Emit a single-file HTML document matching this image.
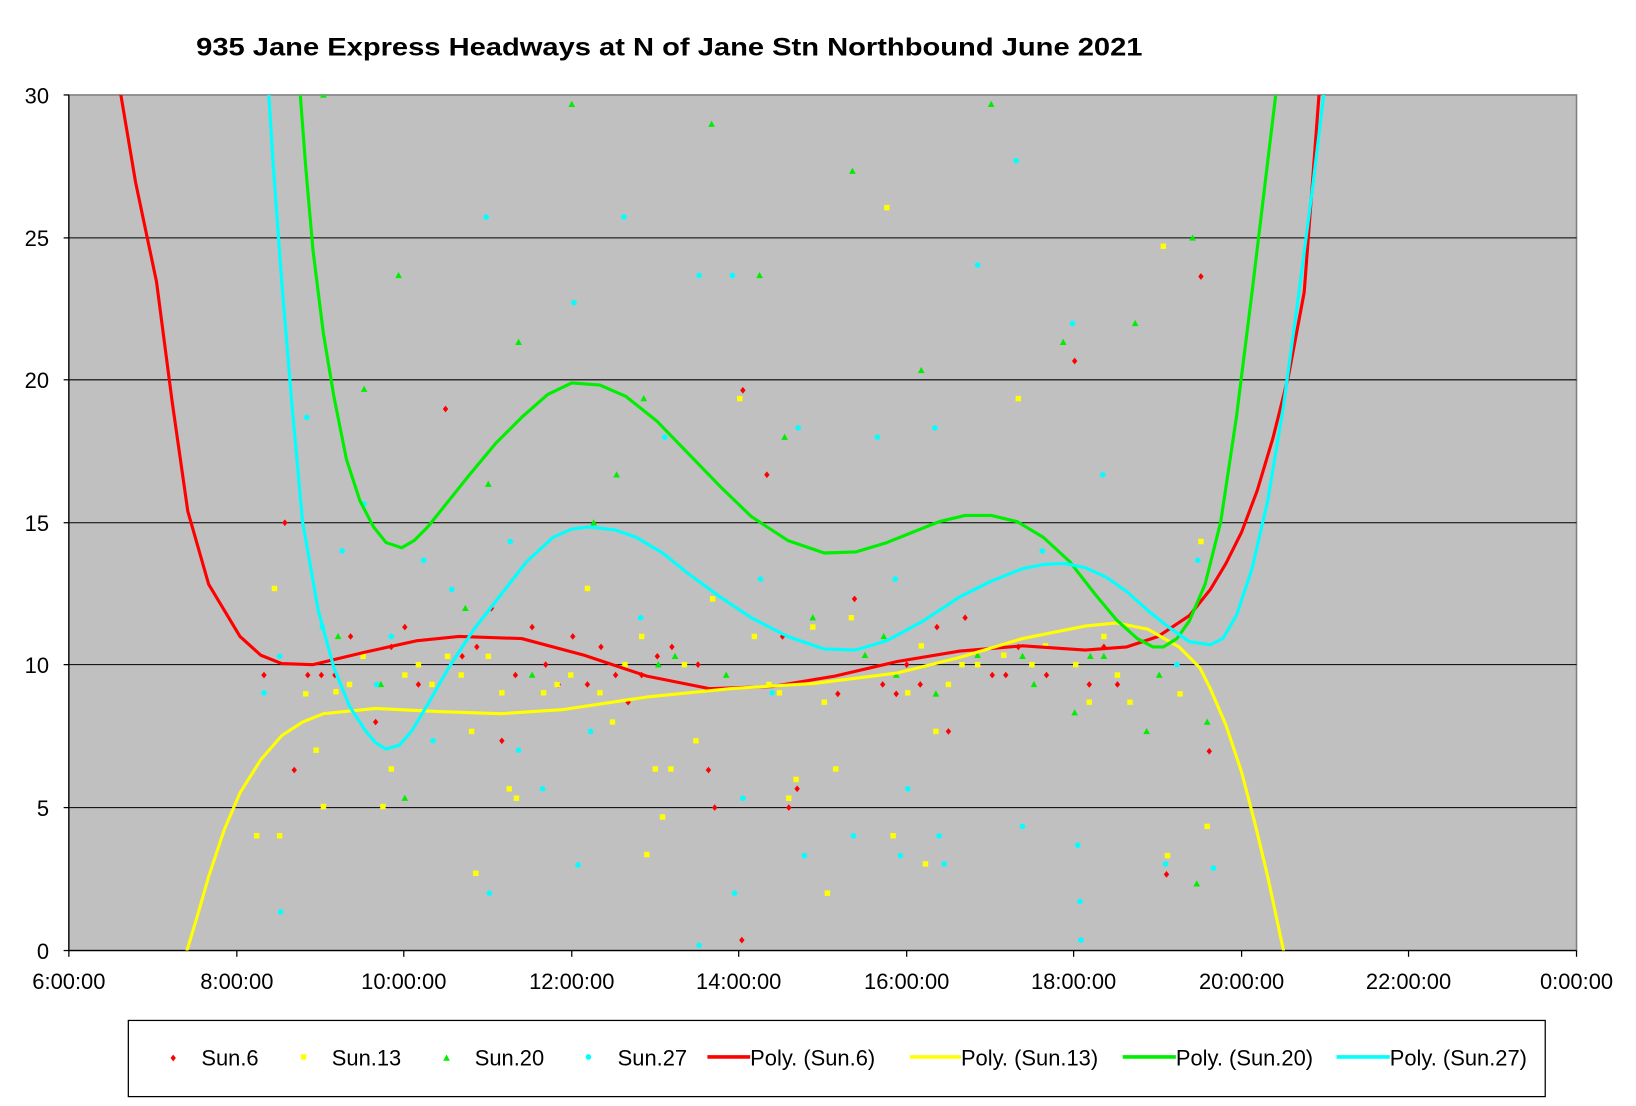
<!DOCTYPE html>
<html><head><meta charset="utf-8"><style>
html,body{margin:0;padding:0;background:#fff;}
svg{display:block;}
text{font-family:"Liberation Sans",Arial,sans-serif;}
</style></head><body>
<svg width="1636" height="1106" viewBox="0 0 1568 1060" preserveAspectRatio="none" xmlns="http://www.w3.org/2000/svg">
<defs>
<clipPath id="pc"><rect x="66" y="91" width="1445" height="820"/></clipPath>
<path id="dm" d="M0,-3.2 L2.6,0 L0,3.2 L-2.6,0Z" fill="#ff0000"/>
<rect id="sq" x="-2.6" y="-2.6" width="5.2" height="5.2" fill="#ffff00"/>
<path id="tr" d="M0,-3.4 L3.2,2.6 L-3.2,2.6Z" fill="#00ee00"/>
<circle id="ci" r="2.7" fill="#00ffff"/>
</defs>
<rect width="1568" height="1060" fill="#fff"/>
<text x="188" y="53" font-size="24" font-weight="bold" textLength="907" lengthAdjust="spacingAndGlyphs">935 Jane Express Headways at N of Jane Stn Northbound June 2021</text>
<rect x="66" y="91" width="1445" height="820" fill="#c0c0c0" stroke="#808080" stroke-width="1.5"/>
<g stroke="#000" stroke-width="1">
<line x1="66" y1="228" x2="1511" y2="228"/>
<line x1="66" y1="364" x2="1511" y2="364"/>
<line x1="66" y1="501" x2="1511" y2="501"/>
<line x1="66" y1="637" x2="1511" y2="637"/>
<line x1="66" y1="774" x2="1511" y2="774"/>
</g>
<g stroke="#000" stroke-width="1.2">
<line x1="66" y1="91" x2="66" y2="911"/>
<line x1="66" y1="911" x2="1511" y2="911"/>
<line x1="61" y1="91" x2="66" y2="91"/><line x1="61" y1="228" x2="66" y2="228"/><line x1="61" y1="364" x2="66" y2="364"/><line x1="61" y1="501" x2="66" y2="501"/><line x1="61" y1="637" x2="66" y2="637"/><line x1="61" y1="774" x2="66" y2="774"/><line x1="61" y1="911" x2="66" y2="911"/>
<line x1="66" y1="911" x2="66" y2="917"/><line x1="227" y1="911" x2="227" y2="917"/><line x1="387" y1="911" x2="387" y2="917"/><line x1="548" y1="911" x2="548" y2="917"/><line x1="708" y1="911" x2="708" y2="917"/><line x1="869" y1="911" x2="869" y2="917"/><line x1="1029" y1="911" x2="1029" y2="917"/><line x1="1190" y1="911" x2="1190" y2="917"/><line x1="1350" y1="911" x2="1350" y2="917"/><line x1="1511" y1="911" x2="1511" y2="917"/>
</g>
<g font-size="21" text-anchor="end">
<text x="47" y="99">30</text><text x="47" y="236">25</text><text x="47" y="372">20</text><text x="47" y="509">15</text><text x="47" y="645">10</text><text x="47" y="782">5</text><text x="47" y="919">0</text>
</g>
<g font-size="21" text-anchor="middle">
<text x="66" y="948">6:00:00</text><text x="227" y="948">8:00:00</text><text x="387" y="948">10:00:00</text><text x="548" y="948">12:00:00</text><text x="708" y="948">14:00:00</text><text x="869" y="948">16:00:00</text><text x="1029" y="948">18:00:00</text><text x="1190" y="948">20:00:00</text><text x="1350" y="948">22:00:00</text><text x="1511" y="948">0:00:00</text>
</g>
<g clip-path="url(#pc)">
<g>
<use href="#dm" x="253" y="647"/><use href="#dm" x="273" y="501"/><use href="#dm" x="282" y="738"/><use href="#dm" x="295" y="647"/><use href="#dm" x="308" y="647"/><use href="#dm" x="321" y="647"/><use href="#dm" x="336" y="610"/><use href="#dm" x="360" y="692"/><use href="#dm" x="375" y="620"/><use href="#dm" x="388" y="601"/><use href="#dm" x="401" y="656"/><use href="#dm" x="427" y="392"/><use href="#dm" x="443" y="629"/><use href="#dm" x="457" y="620"/><use href="#dm" x="471" y="583"/><use href="#dm" x="481" y="710"/><use href="#dm" x="494" y="647"/><use href="#dm" x="510" y="601"/><use href="#dm" x="523" y="637"/><use href="#dm" x="535" y="656"/><use href="#dm" x="549" y="610"/><use href="#dm" x="563" y="656"/><use href="#dm" x="576" y="620"/><use href="#dm" x="590" y="647"/><use href="#dm" x="602" y="673"/><use href="#dm" x="615" y="647"/><use href="#dm" x="630" y="629"/><use href="#dm" x="644" y="620"/><use href="#dm" x="669" y="637"/><use href="#dm" x="679" y="738"/><use href="#dm" x="685" y="774"/><use href="#dm" x="711" y="901"/><use href="#dm" x="712" y="374"/><use href="#dm" x="735" y="455"/><use href="#dm" x="750" y="610"/><use href="#dm" x="756" y="774"/><use href="#dm" x="764" y="756"/><use href="#dm" x="803" y="665"/><use href="#dm" x="819" y="574"/><use href="#dm" x="846" y="656"/><use href="#dm" x="859" y="665"/><use href="#dm" x="869" y="637"/><use href="#dm" x="882" y="656"/><use href="#dm" x="898" y="601"/><use href="#dm" x="909" y="701"/><use href="#dm" x="925" y="592"/><use href="#dm" x="951" y="647"/><use href="#dm" x="964" y="647"/><use href="#dm" x="976" y="620"/><use href="#dm" x="1003" y="647"/><use href="#dm" x="1030" y="346"/><use href="#dm" x="1044" y="656"/><use href="#dm" x="1058" y="620"/><use href="#dm" x="1071" y="656"/><use href="#dm" x="1118" y="838"/><use href="#dm" x="1151" y="265"/><use href="#dm" x="1159" y="720"/>
</g>
<g>
<use href="#sq" x="246" y="801"/><use href="#sq" x="263" y="564"/><use href="#sq" x="268" y="801"/><use href="#sq" x="293" y="665"/><use href="#sq" x="303" y="719"/><use href="#sq" x="310" y="773"/><use href="#sq" x="322" y="663"/><use href="#sq" x="335" y="656"/><use href="#sq" x="348" y="629"/><use href="#sq" x="367" y="773"/><use href="#sq" x="375" y="737"/><use href="#sq" x="388" y="647"/><use href="#sq" x="401" y="637"/><use href="#sq" x="414" y="656"/><use href="#sq" x="429" y="629"/><use href="#sq" x="442" y="647"/><use href="#sq" x="452" y="701"/><use href="#sq" x="456" y="837"/><use href="#sq" x="468" y="629"/><use href="#sq" x="481" y="664"/><use href="#sq" x="488" y="756"/><use href="#sq" x="495" y="765"/><use href="#sq" x="521" y="664"/><use href="#sq" x="534" y="656"/><use href="#sq" x="547" y="647"/><use href="#sq" x="563" y="564"/><use href="#sq" x="575" y="664"/><use href="#sq" x="587" y="692"/><use href="#sq" x="599" y="637"/><use href="#sq" x="615" y="610"/><use href="#sq" x="620" y="819"/><use href="#sq" x="628" y="737"/><use href="#sq" x="635" y="783"/><use href="#sq" x="643" y="737"/><use href="#sq" x="656" y="637"/><use href="#sq" x="667" y="710"/><use href="#sq" x="683" y="574"/><use href="#sq" x="709" y="382"/><use href="#sq" x="723" y="610"/><use href="#sq" x="737" y="656"/><use href="#sq" x="747" y="664"/><use href="#sq" x="756" y="765"/><use href="#sq" x="763" y="747"/><use href="#sq" x="779" y="601"/><use href="#sq" x="790" y="673"/><use href="#sq" x="793" y="856"/><use href="#sq" x="801" y="737"/><use href="#sq" x="816" y="592"/><use href="#sq" x="850" y="199"/><use href="#sq" x="856" y="801"/><use href="#sq" x="870" y="664"/><use href="#sq" x="883" y="619"/><use href="#sq" x="887" y="828"/><use href="#sq" x="897" y="701"/><use href="#sq" x="909" y="656"/><use href="#sq" x="922" y="637"/><use href="#sq" x="937" y="637"/><use href="#sq" x="962" y="628"/><use href="#sq" x="976" y="382"/><use href="#sq" x="989" y="637"/><use href="#sq" x="1002" y="619"/><use href="#sq" x="1031" y="637"/><use href="#sq" x="1044" y="673"/><use href="#sq" x="1058" y="610"/><use href="#sq" x="1071" y="647"/><use href="#sq" x="1083" y="673"/><use href="#sq" x="1115" y="236"/><use href="#sq" x="1119" y="820"/><use href="#sq" x="1131" y="665"/><use href="#sq" x="1151" y="519"/><use href="#sq" x="1157" y="792"/>
</g>
<g>
<use href="#tr" x="310" y="91"/><use href="#tr" x="324" y="610"/><use href="#tr" x="349" y="373"/><use href="#tr" x="365" y="656"/><use href="#tr" x="382" y="264"/><use href="#tr" x="388" y="765"/><use href="#tr" x="446" y="583"/><use href="#tr" x="468" y="464"/><use href="#tr" x="497" y="328"/><use href="#tr" x="510" y="647"/><use href="#tr" x="548" y="100"/><use href="#tr" x="569" y="501"/><use href="#tr" x="591" y="455"/><use href="#tr" x="617" y="382"/><use href="#tr" x="631" y="637"/><use href="#tr" x="647" y="629"/><use href="#tr" x="682" y="119"/><use href="#tr" x="696" y="647"/><use href="#tr" x="728" y="264"/><use href="#tr" x="752" y="419"/><use href="#tr" x="779" y="592"/><use href="#tr" x="817" y="164"/><use href="#tr" x="829" y="628"/><use href="#tr" x="847" y="610"/><use href="#tr" x="859" y="647"/><use href="#tr" x="883" y="355"/><use href="#tr" x="897" y="665"/><use href="#tr" x="937" y="628"/><use href="#tr" x="950" y="100"/><use href="#tr" x="980" y="629"/><use href="#tr" x="991" y="656"/><use href="#tr" x="1019" y="328"/><use href="#tr" x="1030" y="683"/><use href="#tr" x="1045" y="629"/><use href="#tr" x="1058" y="629"/><use href="#tr" x="1088" y="310"/><use href="#tr" x="1099" y="701"/><use href="#tr" x="1111" y="647"/><use href="#tr" x="1143" y="228"/><use href="#tr" x="1147" y="847"/><use href="#tr" x="1157" y="692"/>
</g>
<g>
<use href="#ci" x="253" y="664"/><use href="#ci" x="268" y="629"/><use href="#ci" x="269" y="874"/><use href="#ci" x="294" y="400"/><use href="#ci" x="309" y="601"/><use href="#ci" x="328" y="528"/><use href="#ci" x="349" y="483"/><use href="#ci" x="361" y="656"/><use href="#ci" x="375" y="610"/><use href="#ci" x="406" y="537"/><use href="#ci" x="415" y="710"/><use href="#ci" x="433" y="565"/><use href="#ci" x="466" y="208"/><use href="#ci" x="469" y="856"/><use href="#ci" x="489" y="519"/><use href="#ci" x="497" y="719"/><use href="#ci" x="520" y="756"/><use href="#ci" x="550" y="290"/><use href="#ci" x="554" y="829"/><use href="#ci" x="566" y="701"/><use href="#ci" x="598" y="208"/><use href="#ci" x="614" y="592"/><use href="#ci" x="637" y="419"/><use href="#ci" x="670" y="906"/><use href="#ci" x="670" y="264"/><use href="#ci" x="704" y="856"/><use href="#ci" x="702" y="264"/><use href="#ci" x="712" y="765"/><use href="#ci" x="729" y="555"/><use href="#ci" x="740" y="664"/><use href="#ci" x="765" y="410"/><use href="#ci" x="771" y="820"/><use href="#ci" x="818" y="801"/><use href="#ci" x="841" y="419"/><use href="#ci" x="858" y="555"/><use href="#ci" x="863" y="820"/><use href="#ci" x="870" y="756"/><use href="#ci" x="896" y="410"/><use href="#ci" x="900" y="801"/><use href="#ci" x="905" y="828"/><use href="#ci" x="937" y="254"/><use href="#ci" x="974" y="154"/><use href="#ci" x="980" y="792"/><use href="#ci" x="999" y="528"/><use href="#ci" x="1028" y="310"/><use href="#ci" x="1033" y="810"/><use href="#ci" x="1035" y="864"/><use href="#ci" x="1036" y="901"/><use href="#ci" x="1057" y="455"/><use href="#ci" x="1117" y="828"/><use href="#ci" x="1128" y="637"/><use href="#ci" x="1148" y="537"/><use href="#ci" x="1163" y="832"/>
</g>
<g fill="none" stroke-width="3" stroke-linejoin="round" stroke-linecap="round">
<polyline stroke="#ff0000" points="114,80 130,175 150,270 165,385 180,490 200,560 230,610 250,628 270,636 300,637 350,625 400,614 440,610 500,612 560,628 620,648 680,660 740,658 800,648 860,634 920,624 980,619 1040,623 1080,620 1110,610 1140,590 1160,565 1175,540 1190,510 1205,470 1220,420 1235,360 1250,280 1265,80"/>
<polyline stroke="#ffff00" points="178,915 190,875 200,840 215,795 230,760 250,728 270,705 290,692 310,684 360,679 420,682 480,684 540,680 620,668 700,660 780,655 860,645 920,630 980,612 1040,600 1070,597 1100,603 1130,620 1150,640 1160,660 1175,695 1190,740 1203,790 1215,840 1231,915"/>
<polyline stroke="#00ee00" points="287,80 293,160 300,240 310,320 320,380 332,440 345,480 358,505 370,520 385,525 397,518 410,505 430,480 450,455 475,425 500,400 525,378 548,367 575,369 600,380 630,404 660,435 690,466 720,495 755,518 790,530 820,529 850,520 875,510 900,500 925,494 950,494 975,500 1000,515 1025,538 1050,570 1070,594 1090,612 1105,620 1115,620 1128,612 1140,595 1155,560 1170,500 1185,400 1200,280 1212,180 1224,80"/>
<polyline stroke="#00ffff" points="257,80 262,160 270,270 280,390 290,500 305,585 320,640 335,677 350,700 360,712 370,718 383,714 395,700 410,675 430,640 455,602 480,570 505,538 530,515 548,507 565,505 590,508 610,515 635,530 660,550 690,572 720,592 755,610 790,622 820,623 850,614 885,595 920,572 950,557 980,545 1000,541 1020,540 1040,544 1060,553 1080,567 1100,585 1120,601 1140,615 1160,618 1172,612 1185,590 1200,545 1215,480 1230,390 1245,280 1258,180 1270,80"/>
</g>
</g>
<rect x="123" y="978" width="1358" height="73" fill="#fff" stroke="#000" stroke-width="1.2"/>
<g font-size="21">
<use href="#dm" x="166" y="1014"/><text x="193" y="1021">Sun.6</text>
<use href="#sq" x="291" y="1013"/><text x="318" y="1021">Sun.13</text>
<use href="#tr" x="428" y="1014"/><text x="455" y="1021">Sun.20</text>
<use href="#ci" x="564" y="1013"/><text x="592" y="1021">Sun.27</text>
<line x1="678" y1="1013" x2="719" y2="1013" stroke="#ff0000" stroke-width="3.5"/><text x="719" y="1021">Poly. (Sun.6)</text>
<line x1="872" y1="1013" x2="921" y2="1013" stroke="#ffff00" stroke-width="3.5"/><text x="921" y="1021">Poly. (Sun.13)</text>
<line x1="1076" y1="1013" x2="1127" y2="1013" stroke="#00ee00" stroke-width="3.5"/><text x="1127" y="1021">Poly. (Sun.20)</text>
<line x1="1281" y1="1013" x2="1332" y2="1013" stroke="#00ffff" stroke-width="3.5"/><text x="1332" y="1021">Poly. (Sun.27)</text>
</g>
</svg>
</body></html>
